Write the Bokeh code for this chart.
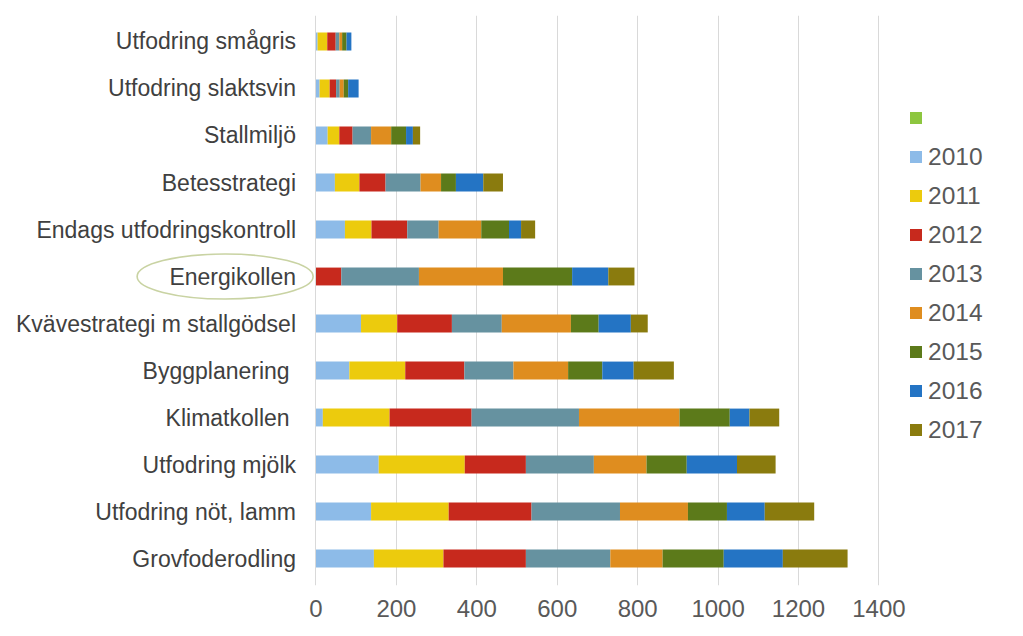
from bokeh.plotting import figure
from bokeh.models import ColumnDataSource, Range1d, FixedTicker, Legend, LegendItem
from bokeh.core.properties import value
from bokeh.embed import file_html
from bokeh.resources import INLINE

# Categories, bottom to top
categories = ["Grovfoderodling", "Utfodring nöt, lamm", "Utfodring mjölk", "Klimatkollen\u00a0",
              "Byggplanering\u00a0", "Kvävestrategi m stallgödsel", "Energikollen",
              "Endags utfodringskontroll", "Betesstrategi", "Stallmiljö",
              "Utfodring slaktsvin", "Utfodring smågris"]
years = ["2010", "2011", "2012", "2013", "2014", "2015", "2016", "2017"]
v2010 = [144, 137, 156, 17, 83, 112, 0, 72, 47, 29, 9, 4]
v2011 = [173, 193, 214, 166, 139, 90, 0, 66, 61, 29, 25, 24]
v2012 = [205, 206, 152, 204, 147, 136, 63, 89, 65, 33, 16, 21]
v2013 = [210, 220, 169, 267, 122, 124, 193, 78, 87, 46, 9, 9]
v2014 = [130, 169, 131, 250, 136, 172, 209, 106, 51, 50, 10, 7]
v2015 = [152, 97, 100, 125, 85, 69, 172, 69, 37, 37, 11, 11]
v2016 = [147, 94, 125, 49, 78, 80, 90, 30, 68, 17, 26, 12]
v2017 = [161, 123, 96, 74, 100, 42, 65, 35, 49, 18, 0, 0]
x_ticks = [0, 200, 400, 600, 800, 1000, 1200, 1400]
highlight = "Energikollen"

colors = ["#8dbbe8", "#eccb0d", "#c7291d", "#6692a0", "#df8d1f", "#5c7a1a", "#2474c4", "#8a7b0e"]
blank_color = "#8dc63f"

series = [v2010, v2011, v2012, v2013, v2014, v2015, v2016, v2017]
data = {"y": list(range(len(categories))), "cat": categories, "zero": [0] * len(categories)}
for yr, vals in zip(years, series):
    data[yr] = vals
source = ColumnDataSource(data)

p = figure(width=1015, height=625, output_backend="svg", toolbar_location=None,
           x_range=Range1d(-764.7, 1739.6), y_range=Range1d(-0.574, 11.553),
           min_border_left=8, min_border_right=0, min_border_top=15, min_border_bottom=40)
p.outline_line_color = None
p.background_fill_color = "white"
p.border_fill_color = "white"

renderers = p.hbar_stack(years, y="y", height=0.38, color=colors, line_color=None, source=source)

# unnamed (empty) series: zero-length bars, shown only as a legend swatch
blank = p.hbar(y="y", left="zero", right="zero", height=0.38, fill_color=blank_color,
               line_color=None, source=source)

# category labels
p.text(x="zero", y="y", text="cat", source=source, x_offset=-20, text_align="right",
       text_baseline="middle", text_font=value("Liberation Sans"), text_font_size="23px",
       text_color="#404040")

# highlight ellipse around Energikollen
ei = categories.index(highlight)
p.ellipse(x=[-226], y=[ei], width=176, height=45, width_units="screen", height_units="screen",
          fill_color=None, line_color="#c9d3a3", line_width=1.6)

# axes
p.yaxis.visible = False
p.ygrid.grid_line_color = None
p.xaxis.ticker = FixedTicker(ticks=x_ticks)
p.xgrid.ticker = FixedTicker(ticks=x_ticks)
p.xgrid.grid_line_color = "#d9d9d9"
p.xgrid.grid_line_width = 1
p.xaxis.axis_line_color = None
p.xaxis.major_tick_line_color = None
p.xaxis.minor_tick_line_color = None
p.xaxis.major_label_text_font = "Liberation Sans"
p.xaxis.major_label_text_font_size = "24px"
p.xaxis.major_label_text_color = "#595959"
p.xaxis.major_label_standoff = 8

# legend
items = [LegendItem(label=value("\u00a0"), renderers=[blank])]
for yr, r in zip(years, renderers):
    items.append(LegendItem(label=value(yr), renderers=[r]))
legend = Legend(items=items, location=(900, 136), orientation="vertical",
                border_line_color=None, background_fill_alpha=0,
                padding=0, margin=0, spacing=0,
                glyph_width=15, glyph_height=15, label_height=39, label_standoff=5,
                label_text_font="Liberation Sans", label_text_font_size="24.5px",
                label_text_color="#595959")
p.add_layout(legend, "center")

open("out.html", "w").write(file_html(p, INLINE))
